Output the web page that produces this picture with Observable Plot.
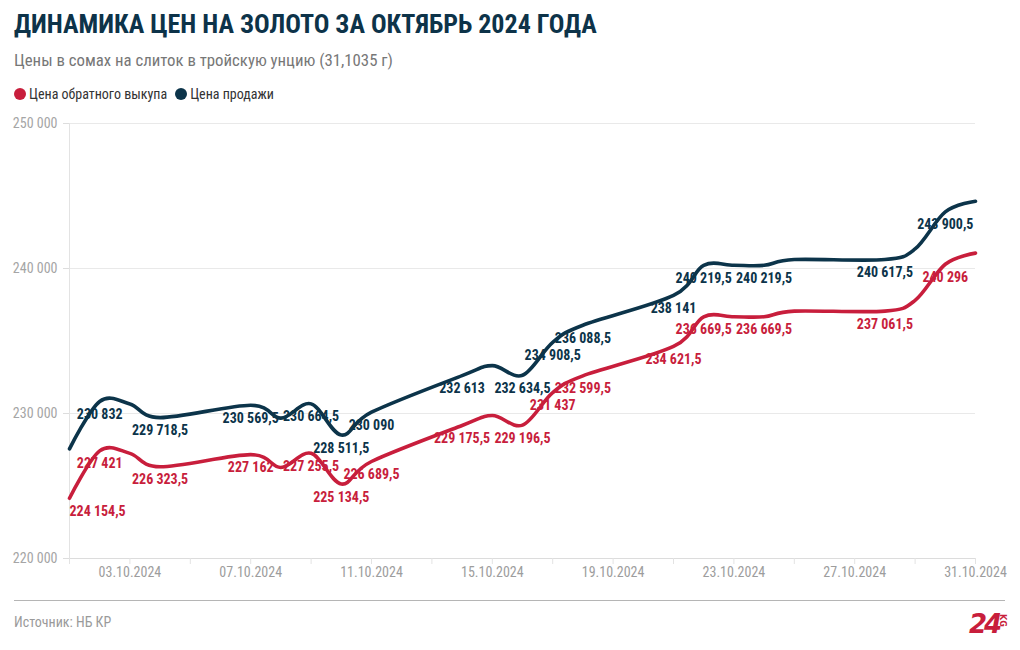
<!DOCTYPE html>
<html><head><meta charset="utf-8">
<script src="https://cdn.jsdelivr.net/npm/d3@7"></script>
<script src="https://cdn.jsdelivr.net/npm/@observablehq/plot@0.6"></script>
<style>
:root{--font:"Roboto Condensed","Liberation Sans Narrow","Arial Narrow","DejaVu Sans Condensed",sans-serif;}
body{margin:0;background:#fff;font-family:var(--font);}
#wrap{position:relative;width:1020px;height:650px;overflow:hidden;background:#fff}
#title{position:absolute;left:14px;top:11px;font-size:26px;font-weight:700;color:#0d3349;line-height:1;white-space:nowrap}
#subtitle{position:absolute;left:14px;top:52px;font-size:16.8px;color:#777;line-height:1;white-space:nowrap}
#legend{position:absolute;left:14px;top:86px;font-size:14px;color:#333;line-height:16px;display:flex;align-items:center;white-space:nowrap}
#legend .sw{display:inline-block;width:12px;height:12px;border-radius:50%;margin-right:3px}
#legend .item{display:flex;align-items:center;margin-right:8px}
#chart{position:absolute;left:0;top:110px}
#rule{position:absolute;left:14px;top:600px;width:991px;height:1px;background:#b5b5b5}
#source{position:absolute;left:14px;top:615px;font-size:14px;color:#9a9a9a;line-height:1}
#logo{position:absolute;left:969px;top:611px;color:#c81e3c;font-weight:900;font-style:italic;font-size:26px;line-height:1;letter-spacing:-3px;font-family:"DejaVu Sans",sans-serif}
#kg{position:absolute;left:998px;top:614px;color:#c81e3c;font-weight:700;font-size:8px;line-height:1;writing-mode:vertical-rl;font-family:"DejaVu Sans",sans-serif}
</style></head>
<body><div id="wrap">
<div id="title">ДИНАМИКА ЦЕН НА ЗОЛОТО ЗА ОКТЯБРЬ 2024 ГОДА</div>
<div id="subtitle">Цены в сомах на слиток в тройскую унцию (31,1035 г)</div>
<div id="legend"></div>
<div id="chart"></div>
<div id="rule"></div>
<div id="source">Источник: НБ КР</div>
<div id="logo">24</div>
<div id="kg">KG</div>
</div>
<script>
// ---- data ----
const dates = ["2024-10-01","2024-10-02","2024-10-03","2024-10-04","2024-10-07","2024-10-08","2024-10-09","2024-10-10","2024-10-11","2024-10-14","2024-10-15","2024-10-16","2024-10-17","2024-10-18","2024-10-21","2024-10-22","2024-10-23","2024-10-24","2024-10-25","2024-10-28","2024-10-29","2024-10-30","2024-10-31"];
const buyback = [224154.5,227421,227250,226323.5,227162,226280,227255.5,225134.5,226689.5,229175.5,229860,229196.5,231437,232599.5,234621.5,236669.5,236669.5,236669.5,237061.5,237061.5,237800,240296,241060];
const sale    = [227560,230832,230660,229718.5,230569.5,229680,230664.5,228511.5,230090,232613,233300,232634.5,234908.5,236088.5,238141,240219.5,240219.5,240219.5,240617.5,240617.5,241350,243900.5,244640];
const seriesNames = ["Цена обратного выкупа","Цена продажи"];
const labeledBuyback = ["2024-10-01","2024-10-02","2024-10-04","2024-10-07","2024-10-09","2024-10-10","2024-10-11","2024-10-14","2024-10-16","2024-10-17","2024-10-18","2024-10-21","2024-10-22","2024-10-24","2024-10-28","2024-10-30"];
const labeledSale = ["2024-10-02","2024-10-04","2024-10-07","2024-10-09","2024-10-10","2024-10-11","2024-10-14","2024-10-16","2024-10-17","2024-10-18","2024-10-21","2024-10-22","2024-10-24","2024-10-28","2024-10-30"];
const yTicks = [220000,230000,240000,250000];
const xTickLabels = ["2024-10-03","2024-10-07","2024-10-11","2024-10-15","2024-10-19","2024-10-23","2024-10-27","2024-10-31"];
const xDomain = ["2024-10-01","2024-10-31"];

// ---- styling ----
const RED = "#c81e3c", NAVY = "#0c344a";
const FONT = getComputedStyle(document.documentElement).getPropertyValue("--font");
const parse = d3.utcParse("%Y-%m-%d");
const locale = d3.formatLocale({decimal:",", thousands:" ", grouping:[3], currency:["",""]});
const fmt = locale.format(",");
const dfmt = d3.utcFormat("%d.%m.%Y");

const rowsB = dates.map((d,i)=>({date:parse(d), value:buyback[i], key:d}));
const rowsS = dates.map((d,i)=>({date:parse(d), value:sale[i], key:d}));
const lbB = rowsB.filter(r=>labeledBuyback.includes(r.key));
const lbS = rowsS.filter(r=>labeledSale.includes(r.key));
const x0 = parse(xDomain[0]), x1 = parse(xDomain[1]);
const tickDates = d3.utcDay.every(2).range(x0, d3.utcDay.offset(x1,1));
const labelSet = new Set(xTickLabels.map(s=>+parse(s)));

document.getElementById("legend").innerHTML = seriesNames.map((n,i)=>
  `<span class="item"><span class="sw" style="background:${i?NAVY:RED}"></span>${n}</span>`).join("");

const CURVE = "cardinal";
const chart = Plot.plot({
  width:1020, height:480, marginLeft:69, marginRight:45, marginTop:13, marginBottom:32,
  style:{fontFamily:FONT, fontSize:"14px", background:"transparent", overflow:"visible"},
  x:{type:"utc", domain:[x0,x1]},
  y:{domain:[220000,250000]},
  marks:[
    Plot.gridY(yTicks, {stroke:"#e9e9e9", strokeOpacity:1}),
    Plot.ruleX([x0], {stroke:"#e3e3e3"}),
    Plot.ruleY([220000], {stroke:"#dcdcdc"}),
    Plot.axisY(yTicks, {tickFormat:d=>fmt(d), tickSize:6, tickPadding:6, stroke:"#dddddd", color:"#a5a5a5", label:null}),
    Plot.axisX(tickDates, {tickFormat:d=>labelSet.has(+d)?dfmt(d):"", tickSize:6, tickPadding:3, stroke:"#e3e3e3", color:"#9d9d9d", label:null}),
    Plot.line(rowsB, {x:"date", y:"value", stroke:RED, strokeWidth:3.6, curve:CURVE}),
    Plot.line(rowsS, {x:"date", y:"value", stroke:NAVY, strokeWidth:3.6, curve:CURVE}),
    Plot.text(lbB.filter(r=>+r.date===+x0), {x:"date", y:"value", text:d=>fmt(d.value), fill:RED, fontWeight:"bold", fontSize:14, textAnchor:"start", dy:13}),
    Plot.text(lbB.filter(r=>+r.date!==+x0), {x:"date", y:"value", text:d=>fmt(d.value), fill:RED, fontWeight:"bold", fontSize:14, dy:13}),
    Plot.text(lbS, {x:"date", y:"value", text:d=>fmt(d.value), fill:NAVY, fontWeight:"bold", fontSize:14, dy:13})
  ]
});
document.getElementById("chart").appendChild(chart);
</script>
</body></html>
